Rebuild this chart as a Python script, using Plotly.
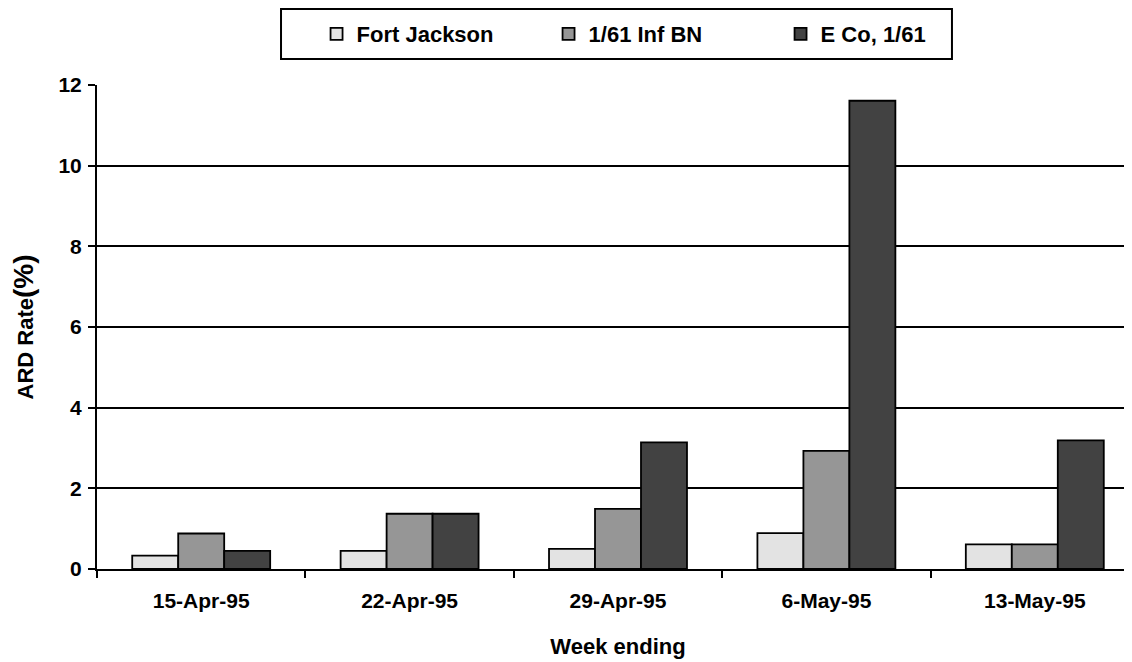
import plotly.graph_objects as go

weeks = ["15-Apr-95", "22-Apr-95", "29-Apr-95", "6-May-95", "13-May-95"]
fort_jackson = [0.33, 0.45, 0.50, 0.89, 0.61]
inf_bn = [0.88, 1.37, 1.49, 2.93, 0.61]
eco = [0.45, 1.37, 3.14, 11.61, 3.19]

series = [
    ("Fort Jackson", fort_jackson, "#e3e3e3"),
    ("1/61 Inf BN", inf_bn, "#969696"),
    ("E Co, 1/61", eco, "#424242"),
]

fig = go.Figure()
for name, vals, col in series:
    fig.add_trace(go.Bar(
        x=weeks, y=vals, name=name,
        marker=dict(color=col, line=dict(color="black", width=1.8)),
    ))

font_main = "Liberation Sans, Arial, sans-serif"

fig.update_layout(
    width=1132, height=662,
    paper_bgcolor="white", plot_bgcolor="white",
    margin=dict(l=89, r=1, t=77, b=101),
    barmode="group", bargap=0.338, bargroupgap=0,
    font=dict(family=font_main, size=16, color="black"),
    showlegend=True,
    legend=dict(
        orientation="h",
        x=0.2107, xanchor="left",
        yref="container", y=0.9607, yanchor="middle",
        borderwidth=0, bgcolor="rgba(0,0,0,0)",
        font=dict(family=font_main, size=22, color="black", weight="bold"),
        entrywidth=187,
        itemwidth=30,
        traceorder="normal",
    ),
    shapes=[dict(
        type="rect", xref="paper", yref="paper",
        x0=0.1766, x1=0.8205, y0=1.0537, y1=1.157,
        line=dict(color="black", width=2), fillcolor="rgba(0,0,0,0)",
        layer="above",
    )],
    xaxis=dict(
        range=[-0.5, 4.5],
        showline=True, linecolor="black", linewidth=2,
        ticks="outside", tickson="boundaries", ticklen=7, tickwidth=1.5, tickcolor="black",
        showgrid=False,
        tickfont=dict(family=font_main, size=21, weight="bold"),
        ticklabelstandoff=12,
        title=dict(text="Week ending", font=dict(family=font_main, size=22, weight="bold"), standoff=27),
    ),
    yaxis=dict(
        range=[0, 12], dtick=2,
        showline=True, linecolor="black", linewidth=2,
        ticks="outside", ticklen=7, tickwidth=1.5, tickcolor="black",
        showgrid=True, gridcolor="black", gridwidth=1.5,
        zeroline=False,
        tickfont=dict(family=font_main, size=21, weight="bold"),
        ticklabelstandoff=2,
        title=dict(text="ARD Rate<span style='font-size:28px'>(%)</span>",
                   font=dict(family=font_main, size=22, weight="bold"), standoff=22),
    ),
)

fig.write_html("out.html")
